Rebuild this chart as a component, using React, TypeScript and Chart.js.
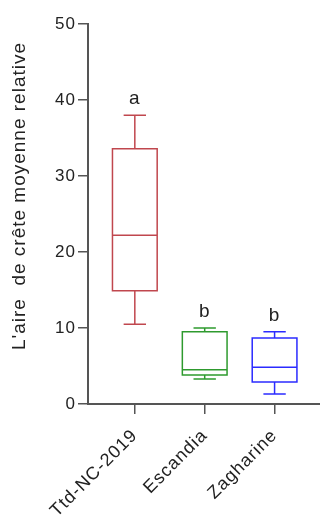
import React, { useEffect, useRef } from 'react';
import { Chart, registerables } from 'chart.js';

Chart.register(...registerables);

const categories = ['Ttd-NC-2019', 'Escandia', 'Zagharine'];
const whiskerMin = [10.5, 3.3, 1.3];
const q1 = [14.9, 3.8, 2.9];
const median = [22.2, 4.5, 4.85];
const q3 = [33.6, 9.5, 8.7];
const whiskerMax = [38.0, 10.0, 9.5];
const groupLetters = ['a', 'b', 'b'];
const boxColors = ['#C0474E', '#2E9A2E', '#2B2BFF'];
const yTickValues = [0, 10, 20, 30, 40, 50];
const yTitle = "L'aire  de crête moyenne relative";

const FONT = "'Liberation Sans', Arial, sans-serif";

const spacingPlugin = {
  id: 'spacing',
  beforeInit(chart: any) {
    try { chart.ctx.letterSpacing = '1px'; } catch (e) {}
  },
  beforeLayout(chart: any) {
    try { chart.ctx.letterSpacing = '1px'; } catch (e) {}
  },
  beforeDraw(chart: any) {
    try { chart.ctx.letterSpacing = '1px'; } catch (e) {}
  },
};

const titlePlugin = {
  id: 'ytitle',
  afterDraw(chart: any) {
    const { ctx } = chart;
    const y = chart.scales.y;
    ctx.save();
    ctx.translate(20, (y.top + y.bottom) / 2 - 18);
    ctx.rotate(-Math.PI / 2);
    ctx.fillStyle = '#222';
    ctx.font = `19px ${FONT}`;
    ctx.textAlign = 'center';
    ctx.textBaseline = 'middle';
    ctx.fillText(yTitle, 0, 0);
    ctx.restore();
  },
};

const boxPlugin = {
  id: 'boxes',
  afterDatasetsDraw(chart: any) {
    const { ctx } = chart;
    const x = chart.scales.x;
    const y = chart.scales.y;
    ctx.save();
    categories.forEach((_, i) => {
      const pos = i + 1;
      const cx = x.getPixelForValue(pos);
      const l = x.getPixelForValue(pos - 0.32);
      const r = x.getPixelForValue(pos + 0.32);
      const cl = x.getPixelForValue(pos - 0.16);
      const cr = x.getPixelForValue(pos + 0.16);
      const yq1 = y.getPixelForValue(q1[i]);
      const yq3 = y.getPixelForValue(q3[i]);
      const ym = y.getPixelForValue(median[i]);
      const ylo = y.getPixelForValue(whiskerMin[i]);
      const yhi = y.getPixelForValue(whiskerMax[i]);
      ctx.strokeStyle = boxColors[i];
      ctx.lineWidth = 1.5;
      ctx.beginPath();
      ctx.rect(l, yq3, r - l, yq1 - yq3);
      ctx.moveTo(l, ym); ctx.lineTo(r, ym);
      ctx.moveTo(cx, yq3); ctx.lineTo(cx, yhi);
      ctx.moveTo(cl, yhi); ctx.lineTo(cr, yhi);
      ctx.moveTo(cx, yq1); ctx.lineTo(cx, ylo);
      ctx.moveTo(cl, ylo); ctx.lineTo(cr, ylo);
      ctx.stroke();
      ctx.fillStyle = '#222';
      ctx.font = `19px ${FONT}`;
      ctx.textAlign = 'center';
      ctx.textBaseline = 'alphabetic';
      ctx.fillText(groupLetters[i], cx, yhi - 11);
    });
    ctx.restore();
  },
};

export default function App() {
  const ref = useRef<HTMLCanvasElement | null>(null);
  useEffect(() => {
    if (!ref.current) return;
    const chart = new Chart(ref.current, {
      type: 'scatter',
      data: {
        datasets: [
          {
            data: categories.map((_, i) => ({ x: i + 1, y: median[i] })),
            pointRadius: 0,
            showLine: false,
          },
        ],
      },
      options: {
        animation: false,
        responsive: false,
        devicePixelRatio: 1,
        layout: { padding: { top: 24, left: 0, right: 0, bottom: 0 } },
        plugins: { legend: { display: false }, tooltip: { enabled: false } },
        scales: {
          x: {
            type: 'linear',
            min: 0.33,
            max: 3.65,
            afterBuildTicks: (s: any) => {
              s.ticks = categories.map((_, i) => ({ value: i + 1 }));
            },
            afterFit: (s: any) => {
              s.height = 114;
              s.paddingLeft = 0;
              s.paddingRight = 0;
            },
            ticks: {
              callback: (v: any) => categories[Number(v) - 1] ?? '',
              minRotation: 45,
              maxRotation: 45,
              autoSkip: false,
              padding: 11,
              color: '#222',
              font: { family: FONT, size: 18 },
            },
            grid: {
              drawOnChartArea: false,
              drawTicks: true,
              tickLength: 10,
              color: '#555',
              lineWidth: 1.5,
            },
            border: { color: '#555', width: 2 },
          },
          y: {
            type: 'linear',
            min: 0,
            max: 50,
            afterBuildTicks: (s: any) => {
              s.ticks = yTickValues.map((v) => ({ value: v }));
            },
            afterFit: (s: any) => {
              s.width = 88;
              s.paddingTop = 0;
              s.paddingBottom = 0;
            },
            ticks: {
              padding: 2,
              color: '#222',
              font: { family: FONT, size: 17 },
            },
            grid: {
              drawOnChartArea: false,
              drawTicks: true,
              tickLength: 10,
              color: '#555',
              lineWidth: 1.5,
            },
            border: { color: '#555', width: 2 },
            title: { display: false },
          },
        },
      },
      plugins: [spacingPlugin, boxPlugin, titlePlugin],
    });
    return () => chart.destroy();
  }, []);
  return (
    <div style={{ position: 'absolute', left: 0, top: 0, width: 320, height: 518, background: '#fff' }}>
      <canvas ref={ref} width={320} height={518} />
    </div>
  );
}
